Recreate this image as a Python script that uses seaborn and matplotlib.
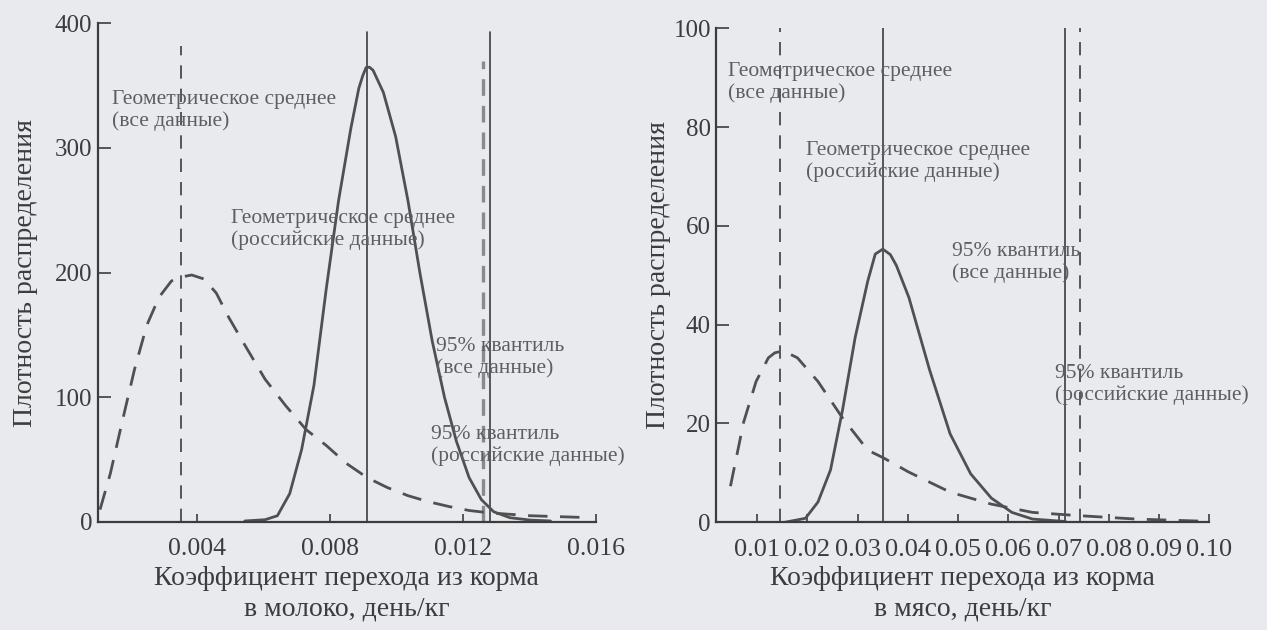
#!/usr/bin/env python
#
# Feed-to-milk / feed-to-meat transfer coefficient densities (two panels)

import numpy as np
import pandas as pd
import matplotlib
matplotlib.use('Agg')
import matplotlib.pyplot as plt
import seaborn as sns

# ---- left panel: milk, day/kg ----
milk_x_all = [0.00107, 0.00138, 0.00174, 0.00211, 0.00248, 0.00285, 0.00322, 0.00352, 0.00383,
              0.0042, 0.00457, 0.00494, 0.00543, 0.00604, 0.00665, 0.00727, 0.00788, 0.00849,
              0.00911, 0.00972, 0.01034, 0.01095, 0.01157, 0.01218, 0.01279, 0.01402, 0.01586]
milk_y_all = [9.7, 38.6, 80.5, 122.4, 157.8, 180.3, 193.2, 196.4, 198.0,
              194.8, 183.5, 164.2, 141.7, 114.3, 93.4, 74.0, 61.2, 46.7,
              35.4, 27.4, 20.9, 16.1, 12.2, 9.0, 7.1, 4.8, 3.2]
milk_x_rus = [0.00543, 0.00604, 0.00641, 0.00678, 0.00714, 0.00751, 0.00788, 0.00825, 0.00862,
              0.00886, 0.00898, 0.00908, 0.00918, 0.00929, 0.0096, 0.00997, 0.01034, 0.0107,
              0.01107, 0.01144, 0.0118, 0.01218, 0.01255, 0.01292, 0.01341, 0.01402, 0.01463]
milk_y_rus = [0.6, 1.6, 4.8, 22.5, 58.0, 109.5, 186.8, 257.6, 315.6,
              347.8, 358.0, 364.5, 364.8, 362.3, 344.5, 309.0, 257.6, 199.6,
              145.0, 99.8, 64.4, 35.4, 17.7, 8.0, 3.2, 1.3, 0.6]
milk_gm_all, milk_gm_rus = 0.0035, 0.0091
milk_q95_all, milk_q95_rus = 0.0126, 0.0128
milk_ticks = [0.004, 0.008, 0.012, 0.016]
milk_ticklabels = ['0.004', '0.008', '0.012', '0.016']

# ---- right panel: meat, day/kg ----
meat_x_all = [0.00468, 0.00731, 0.00978, 0.01223, 0.0135, 0.0147, 0.016, 0.018, 0.0221, 0.027,
              0.032, 0.0352, 0.0401, 0.0484, 0.0565, 0.0648, 0.0731, 0.0854, 0.0993]
meat_y_all = [7.3, 20.3, 28.5, 33.3, 34.3, 34.6, 34.3, 33.3, 28.5, 21.1,
              14.6, 13.0, 10.2, 6.1, 3.7, 2.0, 1.4, 0.65, 0.2]
meat_x_rus = [0.0155, 0.0196, 0.0221, 0.0246, 0.027, 0.0295, 0.032, 0.0335, 0.035, 0.0365,
              0.0377, 0.0402, 0.0443, 0.0484, 0.0525, 0.0566, 0.0607, 0.0648, 0.0714]
meat_y_rus = [0.0, 0.8, 4.1, 10.6, 22.8, 37.4, 48.8, 54.3, 55.3, 54.2,
              52.0, 45.5, 30.9, 17.9, 9.8, 4.9, 2.0, 0.65, 0.15]
meat_gm_all, meat_gm_rus = 0.0145, 0.035
meat_q95_all, meat_q95_rus = 0.0742, 0.0713
meat_ticks = [0.01, 0.02, 0.03, 0.04, 0.05, 0.06, 0.07, 0.08, 0.09, 0.10]
meat_ticklabels = ['0.01', '0.02', '0.03', '0.04', '0.05', '0.06', '0.07', '0.08', '0.09', '0.10']

txt_gm_all = 'Геометрическое среднее\n(все данные)'
txt_gm_rus = 'Геометрическое среднее\n(российские данные)'
txt_q_all = '95% квантиль\n(все данные)'
txt_q_rus = '95% квантиль\n(российские данные)'
ylab = 'Плотность распределения'
xlab_milk = 'Коэффициент перехода из корма\nв молоко, день/кг'
xlab_meat = 'Коэффициент перехода из корма\nв мясо, день/кг'

BG = '#e9eaed'
INK = '#3c3c3e'
CURVE = '#505052'
NOTE = '#5e5e62'


def draw_panel(ax, x_all, y_all, x_rus, y_rus, vlines, notes, xlim, ylim, ticks, ticklabels,
               yticks, xlabel, tick_fs, ylabelpad):
    df_all = pd.DataFrame({'x': x_all, 'y': y_all})
    df_rus = pd.DataFrame({'x': x_rus, 'y': y_rus})
    sns.lineplot(data=df_all, x='x', y='y', ax=ax, color=CURVE, lw=2.0,
                 linestyle=(0, (7, 4.5)), estimator=None, sort=False)
    sns.lineplot(data=df_rus, x='x', y='y', ax=ax, color=CURVE, lw=2.0,
                 estimator=None, sort=False)
    for xv, top, ls, col, lw in vlines:
        ax.axvline(xv, ymin=0, ymax=top, color=col, lw=lw, linestyle=ls, zorder=1)
    for xv, yv, s in notes:
        ax.text(xv, yv, s, fontsize=15.5, color=NOTE, va='center', ha='left',
                linespacing=1.15)
    ax.set_xlim(*xlim)
    ax.set_ylim(*ylim)
    ax.set_xticks(ticks)
    ax.set_xticklabels(ticklabels)
    ax.set_yticks(yticks)
    ax.tick_params(axis='x', direction='in', length=6, width=1.2, color=INK,
                   labelsize=tick_fs, labelcolor=INK, pad=12)
    ax.tick_params(axis='y', direction='in', length=9, width=1.2, color=INK,
                   labelsize=18, labelcolor=INK, pad=4)
    ax.set_xlabel(xlabel, fontsize=20, color=INK, labelpad=4, linespacing=1.28)
    ax.set_ylabel(ylab, fontsize=20, color=INK, labelpad=ylabelpad)
    for side in ['left', 'bottom']:
        ax.spines[side].set_color(INK)
        ax.spines[side].set_linewidth(1.6)
    ax.set_facecolor(BG)


sns.set_theme(style='ticks')
plt.rcParams['font.family'] = ['Liberation Serif', 'DejaVu Serif']

fig = plt.figure(figsize=(12.67, 6.30), dpi=100, facecolor=BG)
ax1 = fig.add_axes([0.0771, 0.1719, 0.3933, 0.7911])
ax2 = fig.add_axes([0.5655, 0.171, 0.389, 0.784])

draw_panel(ax1, milk_x_all, milk_y_all, milk_x_rus, milk_y_rus,
           [(milk_gm_all, 0.955, (0, (8, 6)), INK, 1.2),
            (milk_gm_rus, 0.983, '-', INK, 1.2),
            (milk_q95_all, 0.925, (0, (5, 3)), '#8a8a8e', 2.4),
            (milk_q95_rus, 0.983, '-', INK, 1.2)],
           [(0.00143, 330, txt_gm_all), (0.00502, 234.5, txt_gm_rus),
            (0.01119, 132, txt_q_all), (0.01104, 61, txt_q_rus)],
           (0.001, 0.016), (0, 400), milk_ticks, milk_ticklabels,
           [0, 100, 200, 300, 400], xlab_milk, 18.5, 12)

draw_panel(ax2, meat_x_all, meat_y_all, meat_x_rus, meat_y_rus,
           [(meat_gm_all, 1.0, (0, (8, 6)), INK, 1.2),
            (meat_gm_rus, 1.0, '-', INK, 1.2),
            (meat_q95_all, 1.0, (0, (8, 6)), INK, 1.2),
            (meat_q95_rus, 1.0, '-', INK, 1.2)],
           [(0.00417, 89, txt_gm_all), (0.0198, 73, txt_gm_rus),
            (0.0488, 52.6, txt_q_all), (0.0693, 27.9, txt_q_rus)],
           (0.0019, 0.10), (0, 100), meat_ticks, meat_ticklabels,
           [0, 20, 40, 60, 80, 100], xlab_meat, 19, 2)

sns.despine(fig=fig)
fig.savefig('out.png', dpi=100, facecolor=BG)
